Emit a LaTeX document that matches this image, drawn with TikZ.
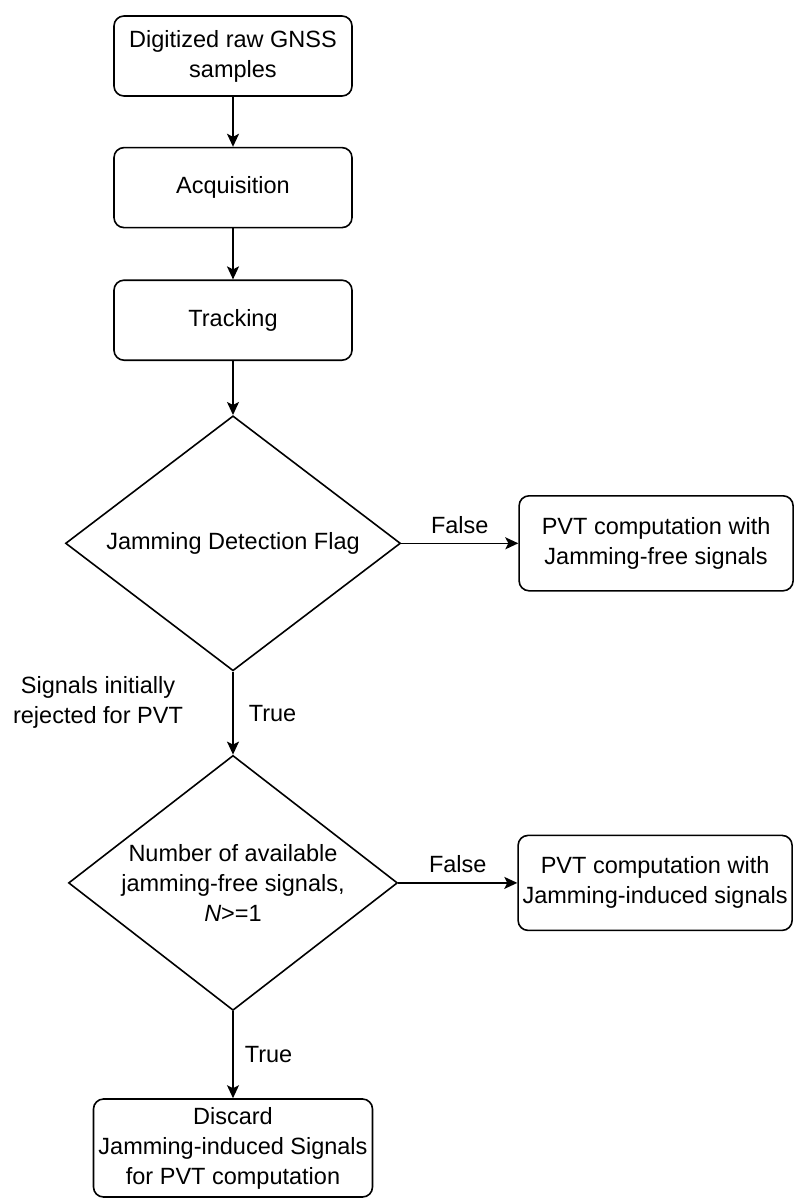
\documentclass[tikz,border=0pt]{standalone}
\usepackage{fontspec}
\setmainfont{Liberation Sans}
\usepackage{tikz}
\usetikzlibrary{arrows.meta,positioning,shapes.geometric}
\tikzset{
  gnbox/.style={draw=black, rounded corners=10pt, line width=1.6pt, fill=white, align=center, inner sep=3pt, minimum width=238pt, minimum height=80pt},
  gnwidebox/.style={gnbox, minimum width=274pt, minimum height=95pt},
  gndecision/.style={draw=black, diamond, aspect=1.31, line width=1.6pt, fill=white, align=center, inner sep=0pt, minimum width=335pt, minimum height=255pt},
  gnline/.style={-{Stealth[length=13pt,width=12pt,inset=3pt]}, line width=1.6pt},
  gnlabel/.style={inner sep=0pt}
}

\begin{document}
\begin{tikzpicture}[font=\fontsize{23.5pt}{30pt}\selectfont]
  \useasboundingbox (0pt,0pt) rectangle (794pt,-1199pt);

  \node[gnbox] (raw) at (233pt,-56pt) {Digitized raw GNSS\\samples};
  \node[gnbox, below=50pt of raw] (acq) {Acquisition};
  \node[gnbox, below=51pt of acq] (trk) {Tracking};
  \node[gndecision, below=54pt of trk] (jdf) {Jamming Detection Flag};
  \node[gnwidebox, right=117pt of jdf] (pvtfree) {PVT computation with\\Jamming-free signals};
  \node[gndecision, below=83pt of jdf, minimum width=329pt] (num) {Number of available\\jamming-free signals,\\\textit{N}>=1};
  \node[gnwidebox, right=119pt of num] (pvtind) {PVT computation with\\Jamming-induced signals};
  \node[gnbox, below=87pt of num, minimum width=279pt, minimum height=98pt] (disc) {Discard\\Jamming-induced Signals\\for PVT computation};
  \node[align=center] (rej) at (98pt,-702pt) {Signals initially\\rejected for PVT};

  \draw[gnline] (raw) -- (acq);
  \draw[gnline] (acq) -- (trk);
  \draw[gnline] (trk) -- (jdf);
  \draw[gnline] (jdf) -- node[gnlabel, midway, above=9pt] (false1) {False} (pvtfree);
  \draw[gnline] (jdf) -- node[gnlabel, midway, right=15pt] (true1) {True} (num);
  \draw[gnline] (num) -- node[gnlabel, midway, above=9pt] (false2) {False} (pvtind);
  \draw[gnline] (num) -- node[gnlabel, midway, right=11pt] (true2) {True} (disc);
\end{tikzpicture}
\end{document}
